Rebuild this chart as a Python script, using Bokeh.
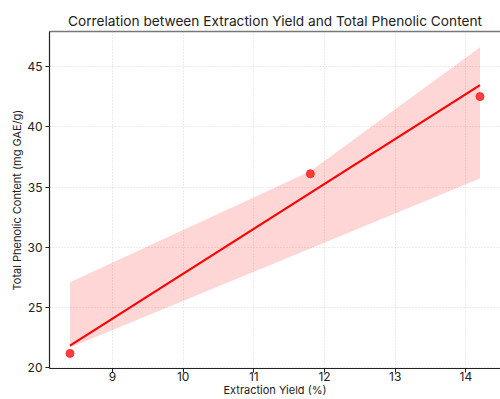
from bokeh.plotting import figure
from bokeh.models import Range1d, FixedTicker, LinearAxis
from bokeh.embed import file_html
from bokeh.resources import INLINE

# data
yield_pct = [8.4, 11.8, 14.2]
tpc = [21.2, 36.1, 42.5]
# fitted line endpoints
fit_x = [8.4, 14.2]
fit_y = [21.85, 43.45]
# confidence band
band_x = [8.4, 11.8, 14.2]
band_upper = [27.1, 36.3, 46.6]
band_lower = [21.7, 29.9, 35.7]

x_ticks = [9, 10, 11, 12, 13, 14]
y_ticks = [20, 25, 30, 35, 40, 45]

FONT = "Inter"

p = figure(width=500, height=399, output_backend="svg", toolbar_location=None,
           x_range=Range1d(8.11, 14.49), y_range=Range1d(19.95, 47.9),
           title="Correlation between Extraction Yield and Total Phenolic Content",
           min_border_left=49, min_border_right=0, min_border_top=31, min_border_bottom=31)

p.title.align = "center"
p.title.text_font = FONT
p.title.text_font_size = "13.7px"
p.title.text_font_style = "normal"
p.title.text_color = "#222222"
p.title.standoff = 6

p.varea(x=band_x, y1=band_lower, y2=band_upper, fill_color="#ff0000", fill_alpha=0.16)
p.line(fit_x, fit_y, line_color="#ff0000", line_width=2.2)
p.scatter(yield_pct, tpc, size=8, fill_color="#ff2020", line_color="#ff2020", fill_alpha=0.85, line_alpha=0.85)

for ax in (p.xaxis[0], p.yaxis[0]):
    ax.major_label_text_font = FONT
    ax.major_label_text_font_size = "12px"
    ax.major_label_text_color = "#222222"
    ax.major_label_text_line_height = 1.0
    ax.axis_label_text_font = FONT
    ax.axis_label_text_font_size = "11px"
    ax.axis_label_text_font_style = "normal"
    ax.axis_label_text_color = "#222222"
    ax.axis_label_text_line_height = 1.0
    ax.minor_tick_line_color = None
    ax.major_tick_in = 0
    ax.major_tick_out = 4
    ax.major_tick_line_color = "#222222"
    ax.axis_line_color = "#222222"
    ax.axis_line_width = 1.2

p.xaxis[0].ticker = FixedTicker(ticks=x_ticks)
p.yaxis[0].ticker = FixedTicker(ticks=y_ticks)
p.xaxis.axis_label = "Extraction Yield (%)"
p.yaxis.axis_label = "Total Phenolic Content (mg GAE/g)"
p.xaxis.major_label_standoff = -1
p.xaxis.axis_label_standoff = -1
p.yaxis.major_label_standoff = 3
p.yaxis.axis_label_standoff = 0

# top spine
top = LinearAxis(ticker=FixedTicker(ticks=[]), axis_line_color="#777777", axis_line_width=1.5,
                 major_tick_out=0, major_tick_in=0, minor_tick_line_color=None,
                 major_label_text_font_size="0px")
p.add_layout(top, "above")

p.grid.grid_line_color = "#d8d8d8"
p.grid.grid_line_dash = "1 2"
p.grid.grid_line_width = 1

p.outline_line_color = None
p.background_fill_color = "white"
p.border_fill_color = "white"

open("out.html", "w").write(file_html(p, INLINE))
